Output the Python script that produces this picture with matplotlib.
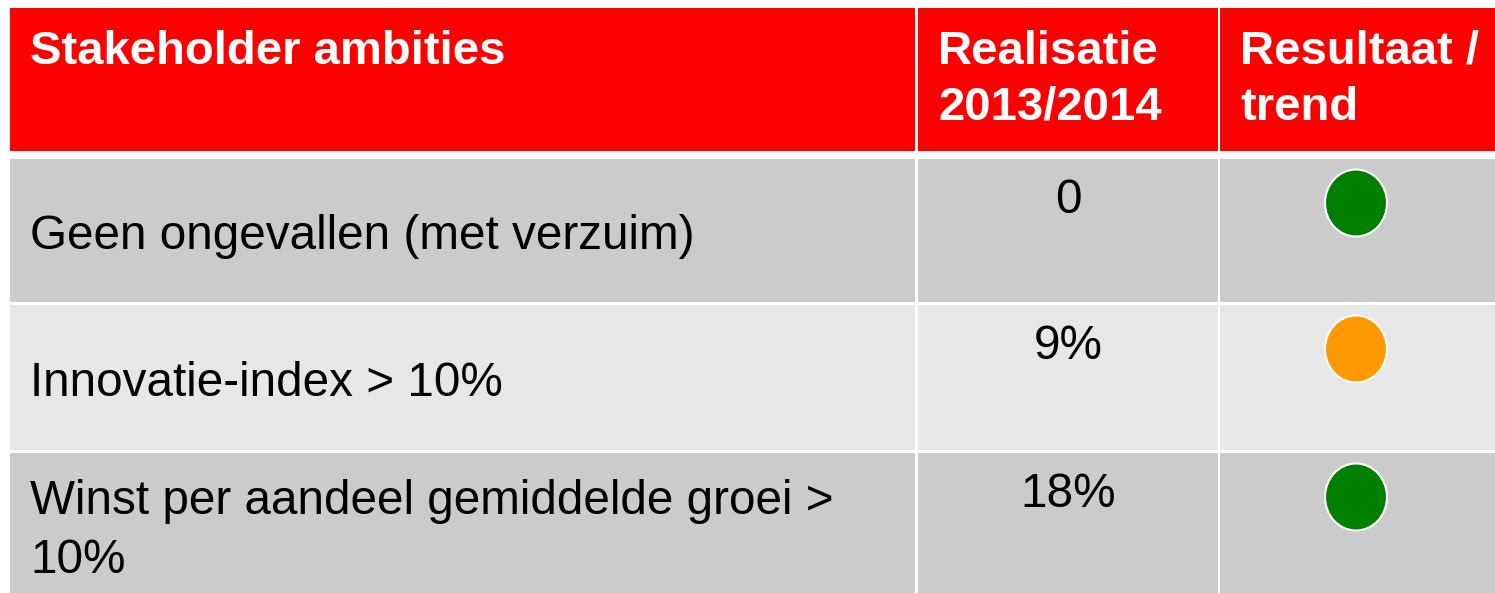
import matplotlib
matplotlib.use("Agg")
import matplotlib.pyplot as plt
from matplotlib.patches import Rectangle, Ellipse

# ---- data ----
headers = ["Stakeholder ambities", "Realisatie\n2013/2014", "Resultaat /\ntrend"]
criteria = ["Geen ongevallen (met verzuim)",
            "Innovatie-index > 10%",
            "Winst per aandeel gemiddelde groei >\n10%"]
realisatie = ["0", "9%", "18%"]
status = ["green", "orange", "green"]

status_colors = {"green": "#008000", "orange": "#FF9900"}

# ---- layout (pixel coordinates) ----
W, H = 1495, 593
col_x = [(10, 915), (918, 1218), (1220, 1497)]
header_y = (8, 151)
row_y = [(159, 302), (305, 450), (453, 600)]
row_fill = ["#CBCBCB", "#E7E7E7", "#CBCBCB"]
header_text_x = [30, 938, 1240]
header_base = [64, 120]
crit_base = [249, 396, 514]
line_gap = 59
real_base_off = 54   # baseline offset of value from row top
circle_off = 44      # circle centre offset from row top

fig = plt.figure(figsize=(W / 100, H / 100), dpi=100)
ax = fig.add_axes([0, 0, 1, 1])
ax.set_xlim(0, W)
ax.set_ylim(H, 0)
ax.axis("off")

hfont = dict(family="Liberation Sans", fontsize=34, fontweight="bold", color="white")
bfont = dict(family="Liberation Sans", fontsize=34.3, color="black")

# header
for (x0, x1), label, tx in zip(col_x, headers, header_text_x):
    ax.add_patch(Rectangle((x0, header_y[0]), x1 - x0, header_y[1] - header_y[0],
                           facecolor="#FF0000", edgecolor="none"))
    for i, line in enumerate(label.split("\n")):
        ax.text(tx, header_base[i], line, va="baseline", ha="left", **hfont)

# body rows
for r, (crit, val, st) in enumerate(zip(criteria, realisatie, status)):
    y0, y1 = row_y[r]
    for (x0, x1) in col_x:
        ax.add_patch(Rectangle((x0, y0), x1 - x0, y1 - y0,
                               facecolor=row_fill[r], edgecolor="none"))
    for i, line in enumerate(crit.split("\n")):
        ax.text(30, crit_base[r] + i * line_gap, line, va="baseline", ha="left", **bfont)
    cx = (col_x[1][0] + col_x[1][1]) / 2
    ax.text(cx, y0 + real_base_off, val, va="baseline", ha="center", **bfont)
    ccx = 1356
    ax.add_patch(Ellipse((ccx, y0 + circle_off), 62, 67,
                         facecolor=status_colors[st], edgecolor="white", linewidth=1.5))

fig.savefig("out.png", dpi=100, facecolor="white")
